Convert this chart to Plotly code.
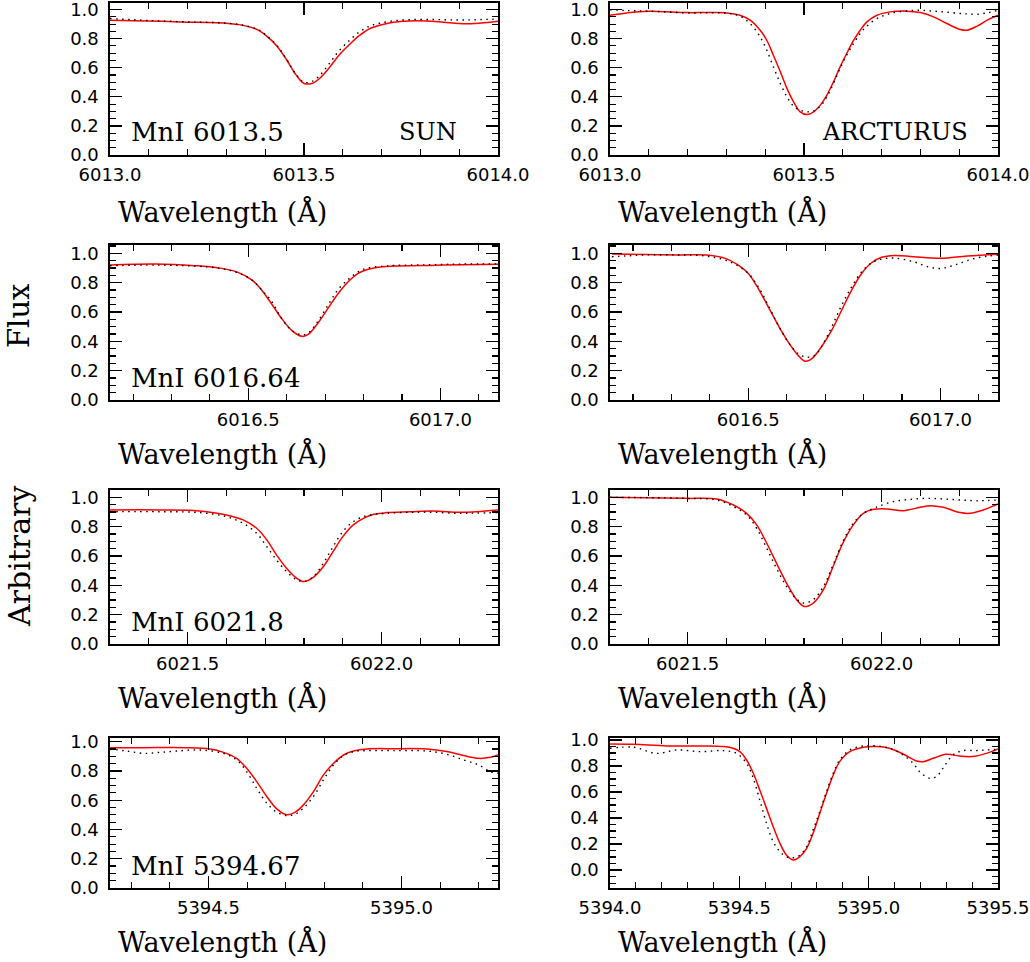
import plotly.graph_objects as go

# ---------------- data ----------------
# Panel 1: SUN, MnI 6013.5
sun1_wl = [6013.00, 6013.10, 6013.20, 6013.25, 6013.30, 6013.34, 6013.38, 6013.40, 6013.43, 6013.455,
           6013.48, 6013.50, 6013.52, 6013.54, 6013.567, 6013.59, 6013.62, 6013.644, 6013.67, 6013.695,
           6013.73, 6013.77, 6013.815, 6013.86, 6013.90, 6013.94, 6014.00]
sun1_syn = [0.927, 0.922, 0.913, 0.911, 0.906, 0.893, 0.862, 0.826, 0.750, 0.655, 0.549, 0.492, 0.492,
            0.526, 0.606, 0.686, 0.767, 0.824, 0.870, 0.892, 0.913, 0.922, 0.922, 0.913, 0.904, 0.904, 0.920]
sun1_obs = [0.938, 0.925, 0.915, 0.912, 0.906, 0.894, 0.864, 0.829, 0.754, 0.658, 0.552, 0.500, 0.505,
            0.545, 0.635, 0.715, 0.795, 0.848, 0.887, 0.906, 0.922, 0.930, 0.932, 0.930, 0.928, 0.930, 0.935]

# Panel 2: ARCTURUS, MnI 6013.5
arc1_wl = [6013.000, 6013.043, 6013.099, 6013.198, 6013.249, 6013.301, 6013.335, 6013.361, 6013.387,
           6013.404, 6013.421, 6013.439, 6013.456, 6013.473, 6013.490, 6013.507, 6013.525, 6013.542,
           6013.559, 6013.576, 6013.593, 6013.610, 6013.628, 6013.645, 6013.662, 6013.688, 6013.722,
           6013.765, 6013.800, 6013.834, 6013.868, 6013.903, 6013.920, 6013.946, 6013.972, 6014.000]
arc1_syn = [0.961, 0.977, 0.988, 0.979, 0.979, 0.977, 0.961, 0.927, 0.858, 0.789, 0.686, 0.572, 0.458,
            0.366, 0.297, 0.279, 0.297, 0.343, 0.412, 0.503, 0.606, 0.698, 0.789, 0.858, 0.915, 0.961,
            0.984, 0.989, 0.979, 0.950, 0.904, 0.863, 0.858, 0.886, 0.927, 0.961]
arc1_obs = [0.998, 0.993, 0.989, 0.977, 0.977, 0.975, 0.954, 0.904, 0.812, 0.721, 0.606, 0.492, 0.400,
            0.336, 0.309, 0.297, 0.304, 0.336, 0.400, 0.492, 0.595, 0.686, 0.767, 0.835, 0.886, 0.938,
            0.973, 0.991, 0.995, 0.989, 0.982, 0.973, 0.970, 0.968, 0.977, 0.995]

# Panel 3: SUN, MnI 6016.64
sun2_wl = [6016.14, 6016.26, 6016.36, 6016.42, 6016.47, 6016.51, 6016.535, 6016.56, 6016.587, 6016.613,
           6016.64, 6016.656, 6016.68, 6016.71, 6016.734, 6016.76, 6016.786, 6016.81, 6016.85, 6016.88,
           6016.97, 6017.055, 6017.15]
sun2_syn = [0.920, 0.927, 0.916, 0.902, 0.874, 0.817, 0.749, 0.658, 0.555, 0.475, 0.434, 0.447, 0.520,
            0.635, 0.726, 0.806, 0.863, 0.890, 0.909, 0.913, 0.918, 0.922, 0.925]
sun2_obs = [0.916, 0.920, 0.913, 0.900, 0.870, 0.817, 0.750, 0.675, 0.555, 0.475, 0.445, 0.457, 0.532,
            0.658, 0.753, 0.822, 0.874, 0.900, 0.912, 0.918, 0.922, 0.927, 0.927]

# Panel 4: ARCTURUS, MnI 6016.64
arc2_syn_wl = [6016.145, 6016.23, 6016.32, 6016.39, 6016.44, 6016.474, 6016.50, 6016.526, 6016.552,
               6016.578, 6016.604, 6016.63, 6016.647, 6016.665, 6016.69, 6016.717, 6016.743, 6016.769,
               6016.795, 6016.821, 6016.847, 6016.88, 6016.93, 6017.00, 6017.07, 6017.154]
arc2_syn = [0.995, 0.993, 0.989, 0.989, 0.966, 0.920, 0.863, 0.760, 0.635, 0.509, 0.395, 0.304, 0.265,
            0.281, 0.361, 0.475, 0.612, 0.749, 0.863, 0.936, 0.973, 0.986, 0.977, 0.966, 0.982, 0.995]
arc2_obs_wl = [6016.145, 6016.18, 6016.23, 6016.32, 6016.39, 6016.44, 6016.474, 6016.50, 6016.526,
               6016.552, 6016.578, 6016.604, 6016.63, 6016.652, 6016.673, 6016.69, 6016.717, 6016.743,
               6016.769, 6016.795, 6016.821, 6016.847, 6016.88, 6016.93, 6016.968, 6017.00, 6017.037,
               6017.08, 6017.124, 6017.154]
arc2_obs = [0.977, 0.982, 0.989, 0.989, 0.982, 0.954, 0.913, 0.863, 0.772, 0.646, 0.509, 0.395, 0.315,
            0.292, 0.304, 0.361, 0.498, 0.646, 0.772, 0.874, 0.936, 0.961, 0.968, 0.943, 0.909, 0.897,
            0.920, 0.959, 0.982, 0.989]

# Panel 5: SUN, MnI 6021.8
sun3_wl = [6021.30, 6021.43, 6021.53, 6021.60, 6021.643, 6021.678, 6021.704, 6021.729, 6021.755, 6021.781,
           6021.80, 6021.824, 6021.85, 6021.875, 6021.90, 6021.927, 6021.953, 6021.98, 6022.013, 6022.073,
           6022.133, 6022.20, 6022.245, 6022.30]
sun3_syn = [0.914, 0.914, 0.907, 0.880, 0.846, 0.789, 0.710, 0.608, 0.517, 0.449, 0.426, 0.454, 0.528,
            0.630, 0.732, 0.812, 0.857, 0.884, 0.896, 0.902, 0.907, 0.898, 0.902, 0.914]
sun3_obs = [0.902, 0.902, 0.896, 0.868, 0.823, 0.755, 0.664, 0.574, 0.494, 0.438, 0.426, 0.460, 0.551,
            0.664, 0.766, 0.834, 0.868, 0.884, 0.891, 0.898, 0.898, 0.891, 0.893, 0.896]

# Panel 6: ARCTURUS, MnI 6021.8
arc3_syn_wl = [6021.30, 6021.386, 6021.497, 6021.575, 6021.618, 6021.652, 6021.678, 6021.704, 6021.729,
               6021.755, 6021.781, 6021.80, 6021.824, 6021.85, 6021.875, 6021.90, 6021.927, 6021.953,
               6021.98, 6022.013, 6022.056, 6022.099, 6022.125, 6022.159, 6022.202, 6022.228, 6022.262,
               6022.30]
arc3_syn = [1.000, 0.998, 0.993, 0.989, 0.948, 0.891, 0.812, 0.687, 0.551, 0.415, 0.302, 0.256, 0.279,
            0.370, 0.528, 0.687, 0.812, 0.891, 0.918, 0.921, 0.909, 0.932, 0.943, 0.932, 0.896, 0.891,
            0.914, 0.955]
arc3_obs_wl = [6021.30, 6021.497, 6021.575, 6021.618, 6021.652, 6021.678, 6021.704, 6021.729, 6021.755,
               6021.781, 6021.80, 6021.824, 6021.85, 6021.875, 6021.90, 6021.927, 6021.953, 6021.98,
               6021.996, 6022.03, 6022.073, 6022.116, 6022.159, 6022.202, 6022.245, 6022.30]
arc3_obs = [1.000, 0.993, 0.982, 0.937, 0.880, 0.789, 0.653, 0.517, 0.392, 0.306, 0.279, 0.302, 0.392,
            0.540, 0.698, 0.823, 0.891, 0.925, 0.943, 0.971, 0.986, 0.993, 0.989, 0.982, 0.977, 0.982]

# Panel 7: SUN, MnI 5394.67
sun4_syn_wl = [5394.245, 5394.33, 5394.444, 5394.504, 5394.539, 5394.573, 5394.599, 5394.625, 5394.651,
               5394.677, 5394.703, 5394.725, 5394.746, 5394.772, 5394.798, 5394.824, 5394.85, 5394.876,
               5394.91, 5394.98, 5395.066, 5395.117, 5395.161, 5395.20, 5395.23, 5395.25]
sun4_syn = [0.959, 0.959, 0.959, 0.950, 0.927, 0.886, 0.818, 0.727, 0.625, 0.541, 0.500, 0.518, 0.568,
            0.659, 0.773, 0.852, 0.909, 0.936, 0.950, 0.952, 0.950, 0.932, 0.905, 0.886, 0.893, 0.909]
sun4_obs_wl = [5394.245, 5394.288, 5394.332, 5394.375, 5394.418, 5394.478, 5394.539, 5394.573, 5394.599,
               5394.625, 5394.651, 5394.677, 5394.703, 5394.725, 5394.746, 5394.772, 5394.798, 5394.824,
               5394.85, 5394.876, 5394.91, 5394.98, 5395.066, 5395.117, 5395.161, 5395.20, 5395.23,
               5395.25]
sun4_obs = [0.950, 0.936, 0.920, 0.927, 0.936, 0.943, 0.920, 0.875, 0.795, 0.682, 0.580, 0.518, 0.495,
            0.505, 0.545, 0.625, 0.739, 0.841, 0.905, 0.932, 0.939, 0.939, 0.936, 0.914, 0.875, 0.841,
            0.795, 0.784]

# Panel 8: ARCTURUS, MnI 5394.67
arc4_syn_wl = [5394.0, 5394.09, 5394.22, 5394.35, 5394.44, 5394.476, 5394.502, 5394.528, 5394.554,
               5394.579, 5394.605, 5394.631, 5394.657, 5394.682, 5394.708, 5394.734, 5394.76, 5394.785,
               5394.811, 5394.837, 5394.863, 5394.888, 5394.927, 5394.98, 5395.03, 5395.08, 5395.133,
               5395.185, 5395.21, 5395.25, 5395.30, 5395.35, 5395.40, 5395.455, 5395.50]
arc4_syn = [0.969, 0.967, 0.954, 0.954, 0.949, 0.936, 0.910, 0.846, 0.744, 0.615, 0.474, 0.333, 0.205,
            0.115, 0.077, 0.103, 0.167, 0.282, 0.436, 0.590, 0.731, 0.833, 0.910, 0.944, 0.949, 0.936,
            0.892, 0.838, 0.833, 0.859, 0.890, 0.877, 0.872, 0.897, 0.931]
arc4_obs_wl = [5394.0, 5394.09, 5394.18, 5394.258, 5394.348, 5394.438, 5394.489, 5394.528, 5394.554,
               5394.579, 5394.605, 5394.631, 5394.657, 5394.682, 5394.708, 5394.734, 5394.76, 5394.785,
               5394.811, 5394.837, 5394.863, 5394.888, 5394.927, 5394.98, 5395.03, 5395.081, 5395.133,
               5395.172, 5395.197, 5395.236, 5395.262, 5395.287, 5395.326, 5395.365, 5395.416, 5395.455,
               5395.50]
arc4_obs = [0.936, 0.944, 0.897, 0.923, 0.910, 0.918, 0.897, 0.820, 0.705, 0.538, 0.359, 0.218, 0.141,
            0.103, 0.095, 0.115, 0.179, 0.308, 0.449, 0.603, 0.744, 0.846, 0.923, 0.954, 0.954, 0.936,
            0.885, 0.820, 0.756, 0.705, 0.718, 0.782, 0.885, 0.918, 0.918, 0.923, 0.928]

line_labels = ["MnI 6013.5", "MnI 6016.64", "MnI 6021.8", "MnI 5394.67"]
star_labels = ["SUN", "ARCTURUS"]
x_tick_lists = [[6013.0, 6013.5, 6014.0], [6016.5, 6017.0], [6021.5, 6022.0], [5394.5, 5395.0]]
x_tick_right4 = [5394.0, 5394.5, 5395.0, 5395.5]
y_ticks = [0.0, 0.2, 0.4, 0.6, 0.8, 1.0]

# ---------------- layout geometry ----------------
W, H = 1030, 962
def PX(px):
    return px / W
def PY(py):
    return 1 - py / H

col_px = [(110, 498), (610, 998)]
row_px = [(3, 155), (245, 400), (490, 644), (738, 888)]
x_ranges = [[6013.0, 6014.0], [6016.14, 6017.15], [6021.3, 6022.3], [5394.245, 5395.25]]
y_ranges_left = [[0, 1.045], [0, 1.057], [0, 1.05], [0, 1.025]]
y_ranges_right = [[0, 1.045], [0, 1.057], [0, 1.05], [-0.138, 1.015]]

panels = [
    (sun1_wl, sun1_obs, sun1_wl, sun1_syn),
    (arc1_wl, arc1_obs, arc1_wl, arc1_syn),
    (sun2_wl, sun2_obs, sun2_wl, sun2_syn),
    (arc2_obs_wl, arc2_obs, arc2_syn_wl, arc2_syn),
    (sun3_wl, sun3_obs, sun3_wl, sun3_syn),
    (arc3_obs_wl, arc3_obs, arc3_syn_wl, arc3_syn),
    (sun4_obs_wl, sun4_obs, sun4_syn_wl, sun4_syn),
    (arc4_obs_wl, arc4_obs, arc4_syn_wl, arc4_syn),
]

fig = go.Figure()
tickfont = dict(family="DejaVu Sans", size=18, color="black")
serif = "DejaVu Serif"

layout = dict(
    width=W, height=H, margin=dict(l=0, r=0, t=0, b=0, autoexpand=False),
    paper_bgcolor="white", plot_bgcolor="white", showlegend=False, hovermode=False,
)

annotations = []
for i, (ox, oy, sx, sy) in enumerate(panels):
    r, c = divmod(i, 2)
    n = i + 1
    xa = "x" if n == 1 else f"x{n}"
    ya = "y" if n == 1 else f"y{n}"
    fig.add_trace(go.Scatter(x=sx, y=sy, mode="lines", xaxis=xa, yaxis=ya,
                             line=dict(color="#ff0000", width=1.5, shape="spline", smoothing=1.0)))
    fig.add_trace(go.Scatter(x=ox, y=oy, mode="lines", xaxis=xa, yaxis=ya,
                             line=dict(color="black", width=1.4, dash="1.5px,4.5px",
                                       shape="spline", smoothing=1.0)))
    x0, x1 = col_px[c]
    t, b = row_px[r]
    if r == 3 and c == 1:
        xr = [5394.0, 5395.5]
        xt = x_tick_right4
        t0 = 5394.0
    else:
        xr = x_ranges[r]
        xt = x_tick_lists[r]
        t0 = xt[0]
    yr = y_ranges_right[r] if c == 1 else y_ranges_left[r]
    common = dict(showline=True, linecolor="black", linewidth=1.6, mirror="allticks",
                  ticks="inside", ticklen=12, tickwidth=1.3, tickcolor="black", automargin=False,
                  ticklabeloverflow="allow",
                  showgrid=False, zeroline=False, tickfont=tickfont, tickformat=".1f")
    layout["xaxis" if n == 1 else f"xaxis{n}"] = dict(
        common, domain=[PX(x0), PX(x1)], range=xr, anchor=ya, tickmode="array", tickvals=xt,
        ticklabelstandoff=3,
        minor=dict(ticks="inside", ticklen=6, tickwidth=1.1, tickcolor="black", dtick=0.1, tick0=t0))
    layout["yaxis" if n == 1 else f"yaxis{n}"] = dict(
        common, domain=[PY(b), PY(t)], range=yr, anchor=xa, tickmode="array", tickvals=y_ticks,
        ticklabelstandoff=6,
        minor=dict(ticks="inside", ticklen=6, tickwidth=1.1, tickcolor="black", dtick=0.05, tick0=0))

    # x-axis title (left aligned below panel)
    title_y = [212, 454, 698, 942][r]
    annotations.append(dict(text="Wavelength (Å)", xref="paper", yref="paper",
                            x=PX(x0 + 6), y=PY(title_y), xanchor="left", yanchor="middle",
                            showarrow=False, font=dict(family=serif, size=27, color="black")))
    lab_y = [132, 378, 622, 866][r]
    if c == 0:
        annotations.append(dict(text=line_labels[r], xref="paper", yref="paper",
                                x=PX(129), y=PY(lab_y), xanchor="left", yanchor="middle",
                                showarrow=False, font=dict(family=serif, size=26, color="black")))
    if r == 0:
        if c == 0:
            annotations.append(dict(text=star_labels[0], xref="paper", yref="paper",
                                    x=PX(459), y=PY(lab_y), xanchor="right", yanchor="middle",
                                    showarrow=False, font=dict(family=serif, size=24, color="black")))
        else:
            annotations.append(dict(text=star_labels[1], xref="paper", yref="paper",
                                    x=PX(970), y=PY(lab_y), xanchor="right", yanchor="middle",
                                    showarrow=False, font=dict(family=serif, size=24, color="black")))

annotations.append(dict(text="Flux", xref="paper", yref="paper", x=PX(19), y=PY(316),
                        xanchor="center", yanchor="middle", textangle=-90, showarrow=False,
                        font=dict(family=serif, size=29, color="black")))
annotations.append(dict(text="Arbitrary", xref="paper", yref="paper", x=PX(19), y=PY(557),
                        xanchor="center", yanchor="middle", textangle=-90, showarrow=False,
                        font=dict(family=serif, size=30, color="black")))
layout["annotations"] = annotations
fig.update_layout(**layout)
fig.write_html("out.html", config={"displayModeBar": False, "staticPlot": True},
               post_script="document.body.style.margin='0';document.body.style.overflow='hidden';")
